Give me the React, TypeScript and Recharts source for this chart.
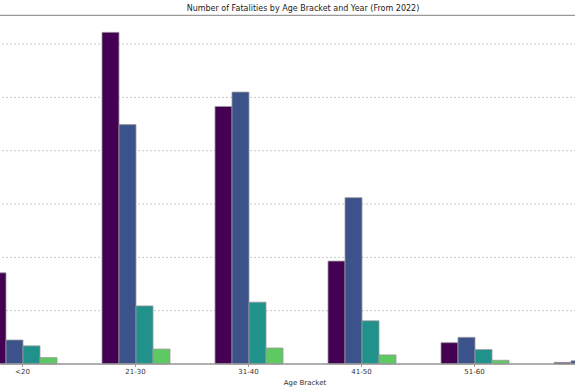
import React from 'react';
import {
  BarChart,
  Bar,
  XAxis,
  YAxis,
  CartesianGrid,
  ReferenceLine,
} from 'recharts';

const ageBrackets = ['<20', '21-30', '31-40', '41-50', '51-60', '>60'];
const years = ['2022', '2023', '2024', '2025'];
const fatalities2022 = [171, 622, 483, 193, 40, 3];
const fatalities2023 = [45, 449, 510, 312, 50, 6];
const fatalities2024 = [34, 109, 116, 81, 27, 2];
const fatalities2025 = [12, 28, 30, 17, 7, 1];
const gridTicks = [0, 100, 200, 300, 400, 500, 600];

const yearColors = ['#440154', '#3b528b', '#21918c', '#5ec962'];

const data = ageBrackets.map((bracket, i) => ({
  bracket,
  '2022': fatalities2022[i],
  '2023': fatalities2023[i],
  '2024': fatalities2024[i],
  '2025': fatalities2025[i],
}));

const font = "'DejaVu Sans', sans-serif";

export default function App() {
  return (
    <div
      style={{
        position: 'fixed',
        left: 0,
        top: 0,
        width: 575,
        height: 390,
        overflow: 'hidden',
        background: '#fff',
        fontFamily: font,
      }}
    >
      <div
        style={{
          position: 'absolute',
          top: 4,
          left: 0,
          width: 606,
          textAlign: 'center',
          fontSize: 8,
          color: '#222',
          whiteSpace: 'nowrap',
        }}
      >
        Number of Fatalities by Age Bracket and Year (From 2022)
      </div>
      <div style={{ position: 'absolute', left: -34.5, top: 0 }}>
        <BarChart
          width={678}
          height={390}
          data={data}
          margin={{ top: 15.3, right: 0, left: 0, bottom: 0 }}
          barCategoryGap={23}
          barGap={0}
        >
          <CartesianGrid
            vertical={false}
            horizontalValues={gridTicks}
            stroke="#c8c8c8"
            strokeDasharray="2 2"
          />
          <XAxis
            dataKey="bracket"
            height={26}
            tickSize={3}
            tick={{ fontSize: 7, fill: '#333', fontFamily: font }}
            tickLine={{ stroke: '#999' }}
            axisLine={{ stroke: '#999', strokeWidth: 1.3 }}
            label={{
              value: 'Age Bracket',
              position: 'insideBottom',
              offset: 5,
              fontSize: 7,
              fill: '#333',
              fontFamily: font,
            }}
          />
          <YAxis hide domain={[0, 654]} ticks={gridTicks} />
          <ReferenceLine y={654} stroke="#999" strokeWidth={1.3} />
          {years.map((year, i) => (
            <Bar
              key={year}
              dataKey={year}
              name={year}
              fill={yearColors[i]}
              stroke="#999"
              strokeWidth={0.8}
              isAnimationActive={false}
            />
          ))}
        </BarChart>
      </div>
    </div>
  );
}
